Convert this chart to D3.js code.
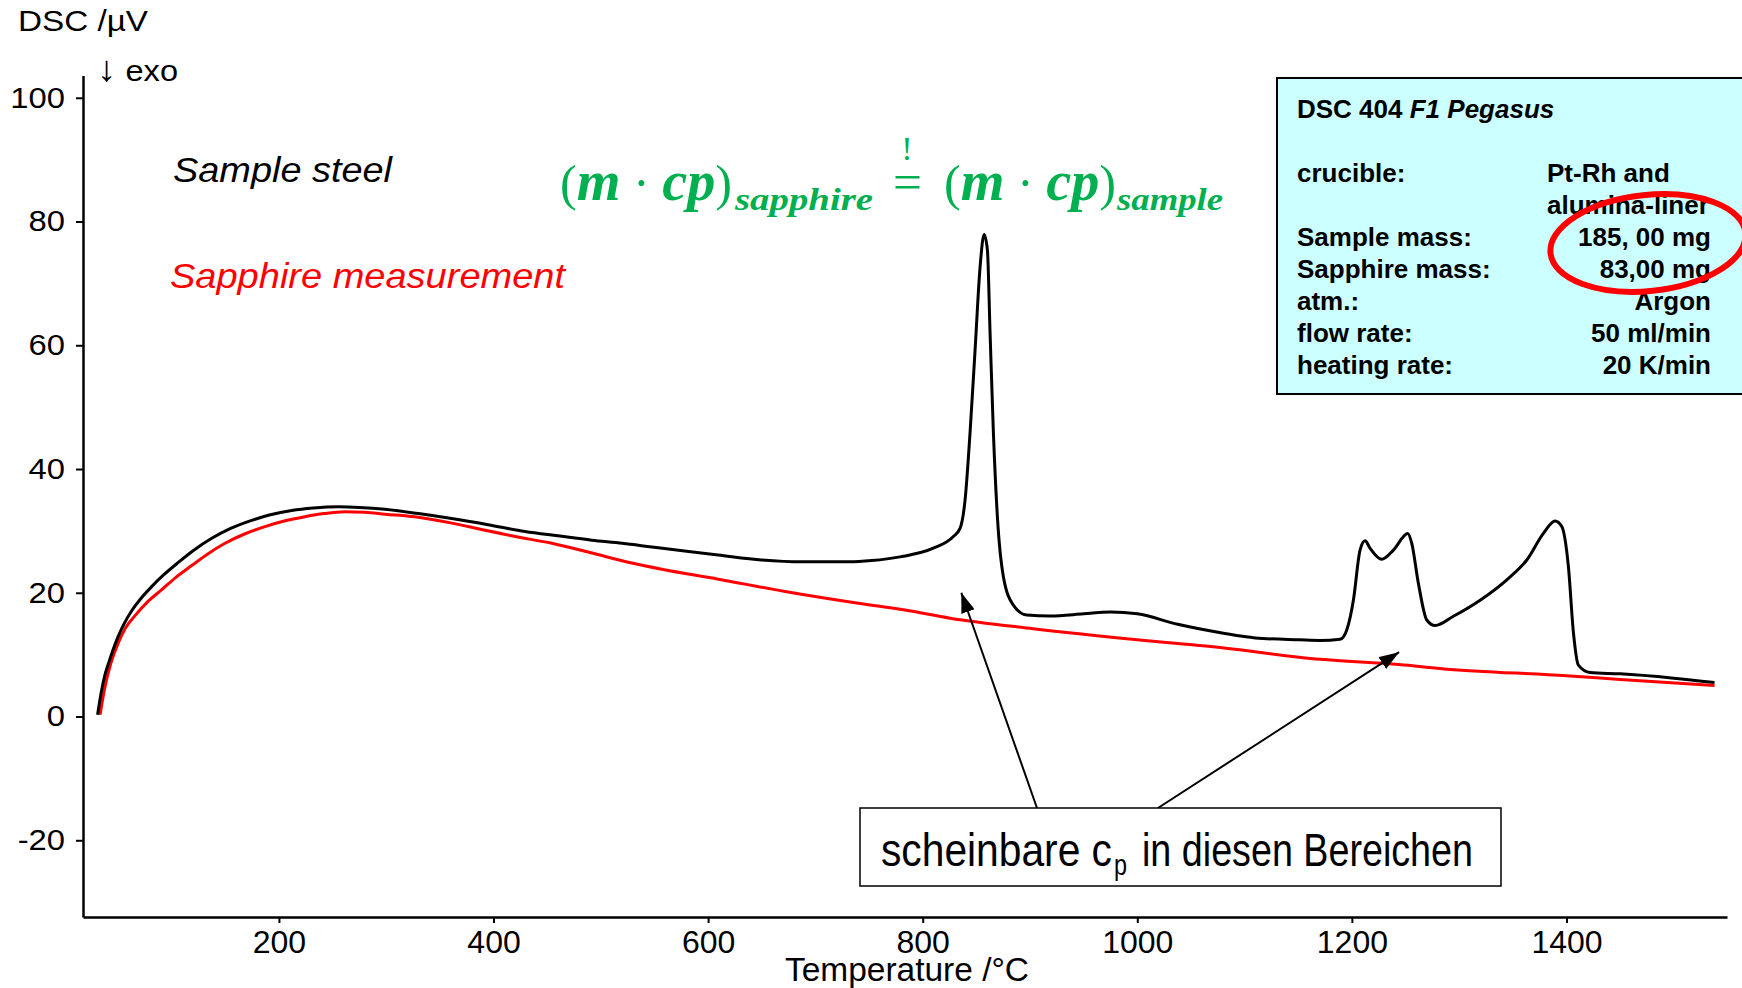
<!DOCTYPE html>
<html><head><meta charset="utf-8">
<script src="https://cdn.jsdelivr.net/npm/d3@7"></script>
<style>body{margin:0;background:#fff;} svg{display:block;}</style>
</head><body><svg id="c" width="1742" height="988"></svg>
<script>
// ---------- data ----------
const sampleT = [31,33,34.8,37.5,41,45,50.3,56,62.8,71,81.4,92,106.2,120,137.4,155,174.6,192,211.9,232,255.4,275,298.9,330,361,395,429.4,460,491.5,520,547.5,580,609.5,650,687.3,730.7,752.5,778.8,809.9,828.6,834.8,839.5,844.1,848.8,853.5,857.2,860.3,862.8,865.9,869.6,875.2,884.5,897,918.7,950,975,1000,1037.7,1079,1110,1151.6,1170.4,1189,1195.2,1201.4,1207.6,1212.3,1216.9,1227.8,1238.7,1252.1,1255.8,1262,1269.8,1277.6,1294.6,1319.5,1344.4,1363,1378.5,1389.4,1395.6,1401.8,1406.5,1411.1,1422,1450,1500,1538];
const sampleV = [0.3,2.5,4.3,6.5,8.5,10.6,13.0,15.1,17.1,19.0,21.0,22.8,24.9,26.8,28.8,30.4,31.7,32.6,33.3,33.7,33.9,33.8,33.5,32.8,32.0,31.0,29.9,29.2,28.5,28.0,27.4,26.7,26.1,25.3,25.0,25.0,25.2,25.8,27.2,29.1,30.4,35.0,45.8,59.2,72.7,77.9,75.4,61.9,45.8,32.3,22.6,18.0,16.4,16.25,16.6,16.9,16.6,14.9,13.5,12.7,12.4,12.3,12.5,14.0,18.8,26.9,28.4,27.2,25.4,26.9,29.6,28.0,21.5,15.6,14.7,16.2,18.8,22.1,25.3,29.6,31.6,30.7,24.2,13.5,8.3,7.1,6.9,6.2,5.5];
const sapphireT = [33.3,35.5,38,43,50.3,57,65.9,78,90.8,104,118.7,133,149.8,168,187,205,224.3,242,261.6,280,298.9,329.9,360,392.1,420,454.3,490,528.8,556.8,609.5,671.7,740,783.6,825.5,903,1000,1079,1170.4,1244,1286,1400,1450,1538];
const sapphireV = [0.3,2.6,4.9,8.4,11.9,14.3,16.3,18.6,20.5,22.5,24.4,26.2,28.0,29.5,30.7,31.6,32.3,32.8,33.1,33.0,32.7,32.2,31.3,30.1,29.1,28.0,26.5,24.8,23.8,22.2,20.2,18.3,17.2,15.9,14.2,12.4,11.1,9.24,8.4,7.7,6.6,6.0,5.0];
const xMajorTicks = [200,400,600,800,1000,1200,1400];
const xMinorTicks = [100,300,500,700,900,1100,1300,1500];
const yMajorTicks = [-20,0,20,40,60,80,100];
const yMinorTicks = [-30,-10,10,30,50,70,90];
const xDomain = [17.4, 1549.6];
const yDomain = [-32.4, 103.6];
const yTitle = "DSC /µV";
const exoLabel = ["↓", " exo"];
const xTitle = "Temperature /°C";
const seriesLabels = ["Sample steel", "Sapphire measurement"];
const infoTitle = ["DSC 404 ", "F1 Pegasus"];
const infoLabels = ["crucible:", "", "Sample mass:", "Sapphire mass:", "atm.:", "flow rate:", "heating rate:"];
const infoValues = ["Pt-Rh and", "alumina-liner", "185, 00 mg", "83,00 mg", "Argon", "50 ml/min", "20 K/min"];
const annotationParts = ["scheinbare c", "p", "in diesen Bereichen"];
const arrowTargetsT = [836, 1244];
const arrowTargetsV = [20.0, 10.4];

// ---------- setup ----------
const svg = d3.select("#c");
const x = d3.scaleLinear().domain(xDomain).range([83, 1727]);
const y = d3.scaleLinear().domain(yDomain).range([917, 75.5]);
const narrow = "'Liberation Sans Narrow','Arial Narrow','Liberation Sans',sans-serif";
const sans = "'Liberation Sans',Arial,sans-serif";
const fmt = d => String(d);

// ---------- axes ----------
const gy = svg.append("g").attr("transform", "translate(83,0)");
gy.call(d3.axisLeft(y).tickValues(yMinorTicks).tickSize(4).tickSizeOuter(0).tickFormat(""));
gy.call(d3.axisLeft(y).tickValues(yMajorTicks).tickSize(7).tickPadding(11).tickSizeOuter(0).tickFormat(fmt));
gy.selectAll(".domain").attr("stroke-width", 2.5);
gy.selectAll(".tick line").attr("stroke-width", 2);
gy.selectAll(".tick text").attr("font-family", sans).attr("font-size", 29).attr("fill", "#000")
  .each(function() {
    const w = this.getComputedTextLength();
    if (w > 0) d3.select(this).attr("textLength", w * 1.13).attr("lengthAdjust", "spacingAndGlyphs");
  });

const gx = svg.append("g").attr("transform", "translate(0,917)");
gx.call(d3.axisBottom(x).tickValues(xMinorTicks).tickSize(4).tickSizeOuter(0).tickFormat(""));
gx.call(d3.axisBottom(x).tickValues(xMajorTicks).tickSize(6).tickSizeOuter(0).tickFormat(fmt));
gx.selectAll(".domain").attr("stroke-width", 2.5);
gx.selectAll(".tick line").attr("stroke-width", 2);
gx.selectAll(".tick text").attr("font-family", sans).attr("font-size", 32).attr("fill", "#000")
  .attr("y", 36).attr("dy", 0);

svg.append("text").attr("x", 785).attr("y", 981).attr("font-family", narrow).attr("font-size", 34)
  .attr("textLength", 244).attr("lengthAdjust", "spacingAndGlyphs").text(xTitle);
svg.append("text").attr("x", 18).attr("y", 31).attr("font-family", sans).attr("font-size", 30)
  .attr("textLength", 130).attr("lengthAdjust", "spacingAndGlyphs").text(yTitle);
const exo = svg.append("text").attr("x", 97).attr("y", 81).attr("font-family", sans).attr("font-size", 30)
  .attr("textLength", 81).attr("lengthAdjust", "spacingAndGlyphs");
exo.append("tspan").attr("font-size", 36).text(exoLabel[0]);
exo.append("tspan").text(exoLabel[1]);

// ---------- curves ----------
const line = d3.line().x(d => x(d[0])).y(d => y(d[1])).curve(d3.curveMonotoneX);
svg.append("path").datum(d3.zip(sapphireT, sapphireV)).attr("d", line)
  .attr("fill", "none").attr("stroke", "#FF0000").attr("stroke-width", 3);
svg.append("path").datum(d3.zip(sampleT, sampleV)).attr("d", line)
  .attr("fill", "none").attr("stroke", "#000").attr("stroke-width", 3);

// ---------- series labels ----------
svg.append("text").attr("x", 173).attr("y", 182).attr("font-family", sans).attr("font-style", "italic")
  .attr("font-size", 35).attr("textLength", 219).attr("lengthAdjust", "spacingAndGlyphs").attr("fill", "#000").text(seriesLabels[0]);
svg.append("text").attr("x", 170).attr("y", 288).attr("font-family", sans).attr("font-style", "italic")
  .attr("font-size", 35).attr("textLength", 395).attr("lengthAdjust", "spacingAndGlyphs").attr("fill", "#FF0000").text(seriesLabels[1]);

// ---------- formula ----------
const green = "#00B050";
const serif = "'Liberation Serif','DejaVu Serif',serif";
function mainPart(x0) {
  const t = svg.append("text").attr("x", x0).attr("y", 200).attr("font-family", serif).attr("font-size", 50)
    .attr("fill", green).attr("textLength", 172).attr("lengthAdjust", "spacingAndGlyphs");
  t.append("tspan").text("(");
  t.append("tspan").attr("font-weight", "bold").attr("font-style", "italic").attr("font-size", 56).text("m");
  t.append("tspan").text(" · ");
  t.append("tspan").attr("font-weight", "bold").attr("font-style", "italic").attr("font-size", 56).text("cp");
  t.append("tspan").text(")");
}
function subPart(x0, w, s) {
  svg.append("text").attr("x", x0).attr("y", 210).attr("font-family", serif).attr("font-size", 32)
    .attr("font-weight", "bold").attr("font-style", "italic").attr("fill", green)
    .attr("textLength", w).attr("lengthAdjust", "spacingAndGlyphs").text(s);
}
mainPart(560);
subPart(735, 138, "sapphire");
svg.append("text").attr("x", 893).attr("y", 199).attr("font-family", serif).attr("font-size", 50)
  .attr("fill", green).attr("textLength", 29).attr("lengthAdjust", "spacingAndGlyphs").text("=");
svg.append("text").attr("x", 907).attr("y", 160).attr("text-anchor", "middle").attr("font-family", serif)
  .attr("font-size", 34).attr("fill", green).text("!");
mainPart(944);
subPart(1117, 106, "sample");

// ---------- info box ----------
svg.append("rect").attr("x", 1277).attr("y", 78).attr("width", 520).attr("height", 316)
  .attr("fill", "#CCFFFF").attr("stroke", "#000").attr("stroke-width", 2);
const tt = svg.append("text").attr("x", 1297).attr("y", 118).attr("font-family", sans)
  .attr("font-weight", "bold").attr("font-size", 26);
tt.append("tspan").text(infoTitle[0]);
tt.append("tspan").attr("font-style", "italic").text(infoTitle[1]);
infoLabels.forEach((s, i) => {
  svg.append("text").attr("x", 1297).attr("y", 182 + 32 * i).attr("font-family", sans)
    .attr("font-weight", "bold").attr("font-size", 26).text(s);
});
infoValues.forEach((s, i) => {
  const left = i < 2;
  svg.append("text").attr("x", left ? 1547 : 1711).attr("y", 182 + 32 * i)
    .attr("text-anchor", left ? "start" : "end").attr("font-family", sans)
    .attr("font-weight", "bold").attr("font-size", 26).text(s);
});
svg.append("ellipse").attr("cx", 1648).attr("cy", 243).attr("rx", 98).attr("ry", 48)
  .attr("transform", "rotate(-6,1648,243)")
  .attr("fill", "none").attr("stroke", "#FF0000").attr("stroke-width", 6);

// ---------- annotation ----------
const defs = svg.append("defs");
defs.append("marker").attr("id", "ah").attr("markerUnits", "userSpaceOnUse")
  .attr("viewBox", "0 0 20 14").attr("markerWidth", 20).attr("markerHeight", 14)
  .attr("refX", 20).attr("refY", 7).attr("orient", "auto")
  .append("path").attr("d", "M0,0 L20,7 L0,14 Z").attr("fill", "#000");
const tails = [1037, 1158];
arrowTargetsT.forEach((t, i) => {
  svg.append("line").attr("x1", tails[i]).attr("y1", 808).attr("x2", x(t)).attr("y2", y(arrowTargetsV[i]))
    .attr("stroke", "#000").attr("stroke-width", 2).attr("marker-end", "url(#ah)");
});
svg.append("rect").attr("x", 860).attr("y", 808).attr("width", 641).attr("height", 78)
  .attr("fill", "#fff").attr("stroke", "#000").attr("stroke-width", 1.5);
svg.append("text").attr("x", 881).attr("y", 866).attr("font-family", narrow).attr("font-size", 47)
  .attr("textLength", 231).attr("lengthAdjust", "spacingAndGlyphs").text(annotationParts[0]);
svg.append("text").attr("x", 1114).attr("y", 875).attr("font-family", narrow).attr("font-size", 29)
  .attr("textLength", 13).attr("lengthAdjust", "spacingAndGlyphs").text(annotationParts[1]);
svg.append("text").attr("x", 1142).attr("y", 866).attr("font-family", narrow).attr("font-size", 47)
  .attr("textLength", 331).attr("lengthAdjust", "spacingAndGlyphs").text(annotationParts[2]);
</script></body></html>
